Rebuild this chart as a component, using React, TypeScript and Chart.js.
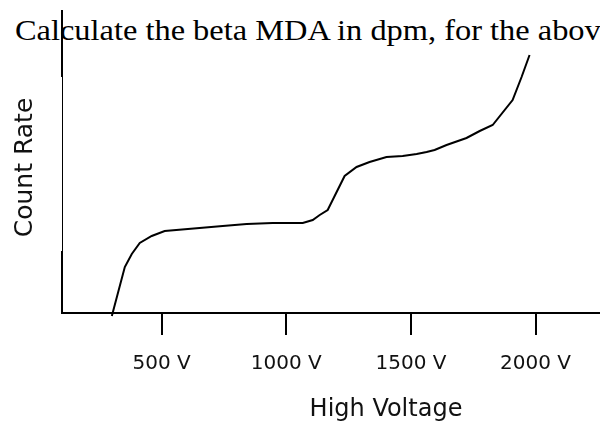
import React, { useEffect, useRef } from "react";
import { Chart, registerables } from "chart.js";

Chart.register(...registerables);

const voltages = [300, 352, 380, 412, 460, 512, 652, 745, 841, 945, 1066, 1106, 1134, 1166, 1234, 1282, 1334, 1402, 1467, 1523, 1563, 1595, 1643, 1723, 1776, 1828, 1908, 1944, 1976];
const counts = [-3, 46, 59, 70, 77, 82, 85, 87, 89, 90, 90, 93, 98, 103, 137, 146, 151, 156, 157, 159, 161, 163, 168, 175, 182, 188, 213, 236, 258];
const tickValues = [500, 1000, 1500, 2000];
const xMin = 100;
const xMax = 2700;
const yMin = 0;
const yMax = 291;

const yAxisLine = {
  id: "yAxisLine",
  afterDraw(chart: any) {
    const { ctx, chartArea } = chart;
    const x = chartArea.left;
    const top = chartArea.top - 12;
    const bottom = chartArea.bottom + 1;
    ctx.save();
    ctx.strokeStyle = "#000";
    ctx.lineCap = "butt";
    ctx.lineWidth = 2;
    ctx.beginPath();
    ctx.moveTo(x, top);
    ctx.lineTo(x, top + 67);
    ctx.stroke();
    ctx.lineWidth = 1;
    ctx.beginPath();
    ctx.moveTo(x + 0.5, top + 67);
    ctx.lineTo(x + 0.5, bottom - 63);
    ctx.stroke();
    ctx.lineWidth = 2;
    ctx.beginPath();
    ctx.moveTo(x, bottom - 63);
    ctx.lineTo(x, bottom);
    ctx.stroke();
    ctx.restore();
  },
};

export default function App() {
  const ref = useRef<HTMLCanvasElement>(null);
  useEffect(() => {
    if (!ref.current) return;
    const chart = new Chart(ref.current, {
      type: "line",
      data: {
        datasets: [
          {
            data: voltages.map((v, i) => ({ x: v, y: counts[i] })),
            borderColor: "#000",
            borderWidth: 2,
            pointRadius: 0,
            tension: 0,
            fill: false,
            clip: false as any,
          },
        ],
      },
      options: {
        animation: false,
        responsive: false,
        layout: { padding: { left: 0, top: 22, right: 10, bottom: 0 } },
        plugins: { legend: { display: false }, tooltip: { enabled: false } },
        scales: {
          x: {
            type: "linear",
            min: xMin,
            max: xMax,
            afterBuildTicks: (axis: any) => {
              axis.ticks = tickValues.map((v) => ({ value: v }));
            },
            afterFit: (axis: any) => {
              axis.height = 110;
            },
            grid: {
              drawOnChartArea: false,
              drawTicks: true,
              tickLength: 22,
              lineWidth: 2,
              color: "#000",
            },
            border: { display: true, color: "#000", width: 2 },
            ticks: {
              color: "#111",
              padding: 17,
              maxRotation: 0,
              font: { family: "DejaVu Sans", size: 20 },
              callback: (v: any) => `${v} V`,
            },
            title: {
              display: true,
              text: "High Voltage",
              color: "#111",
              font: { family: "DejaVu Sans", size: 24, lineHeight: 1.1 },
              padding: { top: 20, bottom: 0 },
            },
          },
          y: {
            type: "linear",
            min: yMin,
            max: yMax,
            afterFit: (axis: any) => {
              axis.width = 62;
            },
            grid: { display: false },
            border: { display: false },
            ticks: { display: false },
            title: {
              display: true,
              text: "Count Rate",
              color: "#111",
              font: { family: "DejaVu Sans", size: 25 },
              padding: { top: 10, bottom: 0 },
            },
          },
        },
      },
      plugins: [yAxisLine],
    });
    return () => chart.destroy();
  }, []);

  return (
    <div style={{ position: "fixed", left: 0, top: 0, width: 600, height: 423, overflow: "hidden", background: "#fff" }}>
      <div
        style={{
          position: "absolute",
          left: 15,
          top: 15,
          whiteSpace: "nowrap",
          fontFamily: "'Liberation Serif', 'Times New Roman', serif",
          fontSize: 30,
          lineHeight: "30px",
          color: "#000",
          transform: "scaleX(1.08)",
          transformOrigin: "left top",
        }}
      >
        Calculate the beta MDA in dpm, for the above
      </div>
      <canvas ref={ref} width={720} height={423} style={{ position: "absolute", left: 0, top: 0, width: 720, height: 423 }} />
    </div>
  );
}
